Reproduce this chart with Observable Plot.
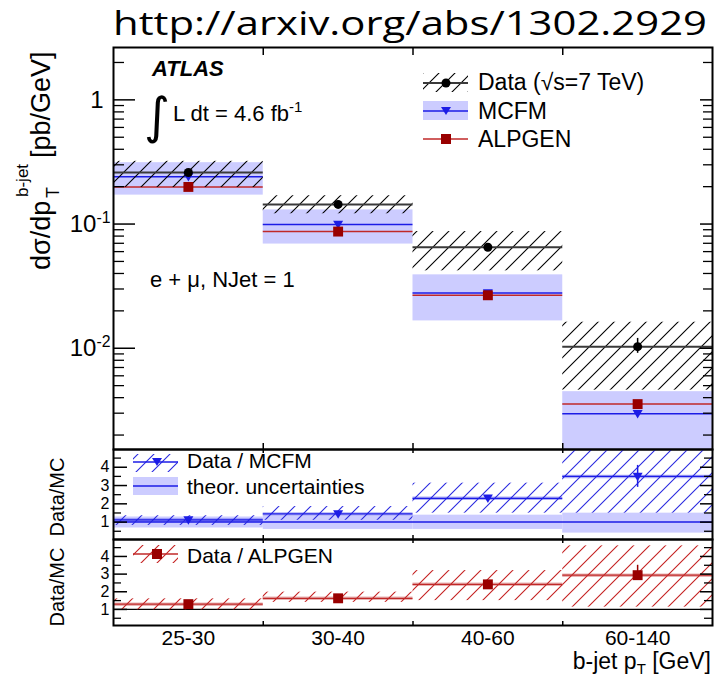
<!DOCTYPE html>
<html><head><meta charset="utf-8">
<script src="https://cdn.jsdelivr.net/npm/d3@7"></script>
<script src="https://cdn.jsdelivr.net/npm/@observablehq/plot@0.6"></script>
<style>
body{margin:0;background:#fff;}
#wrap{position:relative;width:719px;height:677px;overflow:hidden;background:#fff;}
</style></head><body>
<svg width="0" height="0" style="position:absolute">
<defs>
<pattern id="hatchBlack" patternUnits="userSpaceOnUse" width="16" height="16">
<path d="M-4,4 L4,-4 M0,16 L16,0 M12,20 L20,12" stroke="#000" stroke-width="1.1" fill="none"/>
</pattern>
<pattern id="hatchBlue" patternUnits="userSpaceOnUse" width="16" height="16">
<path d="M-4,4 L4,-4 M0,16 L16,0 M12,20 L20,12" stroke="#2a2ae0" stroke-width="1.1" fill="none"/>
</pattern>
<pattern id="hatchRed" patternUnits="userSpaceOnUse" width="16" height="16">
<path d="M-4,4 L4,-4 M0,16 L16,0 M12,20 L20,12" stroke="#c42020" stroke-width="1.1" fill="none"/>
</pattern>
</defs>
</svg>
<div id="wrap"></div>
<script>
// ---------------- data ----------------
const categories = ["25-30", "30-40", "40-60", "60-140"];

// top panel: d sigma / d pT  [pb/GeV]
const dataValue   = [0.26, 0.144, 0.065, 0.0103];
const dataStatLo  = [0.25, 0.139, 0.062, 0.0091];
const dataStatHi  = [0.27, 0.149, 0.068, 0.0120];
const dataSystLo  = [0.197, 0.121, 0.042, 0.0046];
const dataSystHi  = [0.32, 0.169, 0.087, 0.0162];
const mcfmValue   = [0.24, 0.099, 0.0278, 0.00297];
const mcfmLo      = [0.171, 0.069, 0.0166, 0.00153];
const mcfmHi      = [0.312, 0.130, 0.039, 0.00447];
const alpgenValue = [0.199, 0.087, 0.0267, 0.00355];

// middle panel: Data / MCFM
const ratioMcfm       = [1.12, 1.45, 2.3, 3.5];
const ratioMcfmStatLo = [1.08, 1.40, 2.2, 2.9];
const ratioMcfmStatHi = [1.16, 1.50, 2.4, 4.1];
const ratioMcfmSystLo = [0.82, 1.1, 1.49, 1.49];
const ratioMcfmSystHi = [1.35, 1.85, 3.13, 4.97];
const theoryLo        = [0.68, 0.6, 0.6, 0.4];
const theoryHi        = [1.28, 1.32, 1.38, 1.49];

// bottom panel: Data / ALPGEN
const ratioAlp       = [1.3, 1.63, 2.42, 2.94];
const ratioAlpStatLo = [1.25, 1.58, 2.33, 2.65];
const ratioAlpStatHi = [1.35, 1.68, 2.5, 3.5];
const ratioAlpSystLo = [0.98, 1.4, 1.5, 1.13];
const ratioAlpSystHi = [1.6, 1.98, 3.2, 4.6];

// ticks
const binEdges = [1, 2, 3];
const binCenters = [0.5, 1.5, 2.5, 3.5];
const topMajor = [1, 0.1, 0.01];
const topMinor = [2, 0.9, 0.8, 0.7, 0.6, 0.5, 0.4, 0.3, 0.2,
  0.09, 0.08, 0.07, 0.06, 0.05, 0.04, 0.03, 0.02,
  0.009, 0.008, 0.007, 0.006, 0.005, 0.004, 0.003, 0.002];
const ratioMajor = [1, 2, 3, 4];
const ratioMinor = [0.5, 1.5, 2.5, 3.5, 4.5];

// ---------------- style ----------------
const BLUE = "#1c1ce6", BAND = "#ccccff", RED = "#c02828", DARKRED = "#990000";
const FONT = "'Liberation Sans', Arial, Helvetica, sans-serif";
const W = 719, ML = 113, MR = 7, FW = W - ML - MR;

const rows = categories.map((cat, i) => ({
  cat, i0: i, i1: i + 1, ic: i + 0.5,
  data: dataValue[i], statLo: dataStatLo[i], statHi: dataStatHi[i],
  systLo: dataSystLo[i], systHi: dataSystHi[i],
  mcfm: mcfmValue[i], mcfmLo: mcfmLo[i], mcfmHi: mcfmHi[i], alpgen: alpgenValue[i],
  rM: ratioMcfm[i], rMsLo: ratioMcfmStatLo[i], rMsHi: ratioMcfmStatHi[i],
  rMyLo: ratioMcfmSystLo[i], rMyHi: ratioMcfmSystHi[i], thLo: theoryLo[i], thHi: theoryHi[i],
  rA: ratioAlp[i], rAsLo: ratioAlpStatLo[i], rAsHi: ratioAlpStatHi[i],
  rAyLo: ratioAlpSystLo[i], rAyHi: ratioAlpSystHi[i]
}));

const triDown = {draw(ctx, size) {
  const r = Math.sqrt(size / Math.PI);
  ctx.moveTo(-r, -0.75 * r); ctx.lineTo(r, -0.75 * r); ctx.lineTo(0, 0.95 * r); ctx.closePath();
}};

function svgStyle(top) {
  return `position:absolute;top:${top}px;left:0;background:transparent;overflow:visible;font-family:${FONT};color:black;`;
}
function tickMarks(H, major, minor, lMaj, lMin, rMaj, rMin, xTop, xBot) {
  return [
    Plot.ruleY(major, {insetRight: FW - lMaj, stroke: "black", strokeWidth: 1.5}),
    Plot.ruleY(minor, {insetRight: FW - lMin, stroke: "black", strokeWidth: 1.3}),
    Plot.ruleY(major, {insetLeft: FW - rMaj, stroke: "black", strokeWidth: 1.5}),
    Plot.ruleY(minor, {insetLeft: FW - rMin, stroke: "black", strokeWidth: 1.3}),
    Plot.ruleX(binEdges, {insetBottom: H - xTop, stroke: "black", strokeWidth: 1.5}),
    Plot.ruleX(binEdges, {insetTop: H - xBot, stroke: "black", strokeWidth: 1.5})
  ];
}

// ---------------- top panel ----------------
const topPlot = Plot.plot({
  width: W, height: 410, marginTop: 7, marginBottom: 1, marginLeft: ML, marginRight: MR,
  style: svgStyle(40) + "font-size:24px;",
  x: {domain: [0, 4], axis: null},
  y: {type: "log", domain: [0.00153, 2.64], label: null},
  marks: [
    Plot.rect(rows, {x1: "i0", x2: "i1", y1: "mcfmLo", y2: "mcfmHi", fill: BAND}),
    Plot.ruleY(rows, {x1: "i0", x2: "i1", y: "mcfm", stroke: BLUE, strokeWidth: 1.5}),
    Plot.ruleY(rows, {x1: "i0", x2: "i1", y: "alpgen", stroke: RED, strokeWidth: 1.5}),
    Plot.rect(rows, {x1: "i0", x2: "i1", y1: "systLo", y2: "systHi", fill: "url(#hatchBlack)"}),
    Plot.ruleY(rows, {x1: "i0", x2: "i1", y: "data", stroke: "#3a3a3a", strokeWidth: 2}),
    Plot.ruleX(rows, {x: "ic", y1: "statLo", y2: "statHi", stroke: "black", strokeWidth: 1.5}),
    Plot.dot(rows, {x: "ic", y: "mcfm", symbol: triDown, r: 5, fill: BLUE}),
    Plot.dot(rows, {x: "ic", y: "alpgen", symbol: "square", r: 5.6, fill: DARKRED}),
    Plot.dot(rows, {x: "ic", y: "data", symbol: "circle", r: 4.5, fill: "black"}),
    ...tickMarks(402, topMajor, topMinor, 22, 11, 12, 9, 8, 6),
    Plot.frame({stroke: "black", strokeWidth: 2}),
    Plot.axisY({ticks: topMajor, tickSize: 0, tickPadding: 3, label: null,
      tickFormat: v => v === 1 ? "1" : "10^" + Math.round(Math.log10(v))})
  ]
});

// ---------------- middle panel ----------------
const midPlot = Plot.plot({
  width: W, height: 91, marginTop: 0, marginBottom: 1, marginLeft: ML, marginRight: MR,
  style: svgStyle(449) + "font-size:16px;",
  x: {domain: [0, 4], axis: null},
  y: {domain: [0.05, 4.97], label: null},
  marks: [
    Plot.rect(rows, {x1: "i0", x2: "i1", y1: "thLo", y2: "thHi", fill: BAND}),
    Plot.ruleY([1], {stroke: BLUE, strokeWidth: 1.5}),
    Plot.rect(rows, {x1: "i0", x2: "i1", y1: "rMyLo", y2: "rMyHi", fill: "url(#hatchBlue)"}),
    Plot.ruleY(rows, {x1: "i0", x2: "i1", y: "rM", stroke: BLUE, strokeOpacity: 0.35, strokeWidth: 3.5}),
    Plot.ruleY(rows, {x1: "i0", x2: "i1", y: "rM", stroke: BLUE, strokeWidth: 1.2}),
    Plot.ruleX(rows, {x: "ic", y1: "rMsLo", y2: "rMsHi", stroke: BLUE, strokeWidth: 1.5}),
    Plot.dot(rows, {x: "ic", y: "rM", symbol: triDown, r: 5, fill: BLUE}),
    ...tickMarks(90, ratioMajor, ratioMinor, 14, 8, 12, 8, 4, 4),
    Plot.frame({stroke: "black", strokeWidth: 2}),
    Plot.axisY({ticks: ratioMajor, tickSize: 0, tickPadding: 4, label: null, tickFormat: d => String(d)})
  ]
});

// ---------------- bottom panel ----------------
const botPlot = Plot.plot({
  width: W, height: 138, marginTop: 0, marginBottom: 52, marginLeft: ML, marginRight: MR,
  style: svgStyle(539) + "font-size:16px;",
  x: {domain: [0, 4], label: null},
  y: {domain: [0.09, 4.96], label: null},
  marks: [
    Plot.ruleY([1], {stroke: "black", strokeWidth: 1.3}),
    Plot.rect(rows, {x1: "i0", x2: "i1", y1: "rAyLo", y2: "rAyHi", fill: "url(#hatchRed)"}),
    Plot.ruleY(rows, {x1: "i0", x2: "i1", y: "rA", stroke: RED, strokeOpacity: 0.35, strokeWidth: 3.5}),
    Plot.ruleY(rows, {x1: "i0", x2: "i1", y: "rA", stroke: RED, strokeWidth: 1.2}),
    Plot.ruleX(rows, {x: "ic", y1: "rAsLo", y2: "rAsHi", stroke: DARKRED, strokeWidth: 1.5}),
    Plot.dot(rows, {x: "ic", y: "rA", symbol: "square", r: 5.6, fill: DARKRED}),
    ...tickMarks(86, ratioMajor, ratioMinor, 14, 8, 12, 8, 4, 4),
    Plot.frame({stroke: "black", strokeWidth: 2}),
    Plot.axisY({ticks: ratioMajor, tickSize: 0, tickPadding: 4, label: null, tickFormat: d => String(d)}),
    Plot.axisX({ticks: binCenters, tickSize: 0, tickPadding: 5, label: null, fontSize: 21,
      tickFormat: v => categories[Math.floor(v)]})
  ]
});

const wrap = document.getElementById("wrap");
wrap.append(topPlot, midPlot, botPlot);

// superscript exponents on the log axis
d3.select(topPlot).selectAll("text").each(function() {
  const t = this.textContent;
  if (/^10\^/.test(t)) {
    const e = t.slice(3);
    const s = d3.select(this);
    s.text("");
    s.append("tspan").text("10");
    s.append("tspan").attr("dy", "-0.55em").attr("font-size", "0.66em").text(e);
  } else if (t === "1") {
    d3.select(this).attr("dx", -7);
  }
});

// ---------------- overlay texts & legends ----------------
const ov = d3.select(wrap).append("svg")
  .attr("width", W).attr("height", 677)
  .style("position", "absolute").style("top", "0").style("left", "0")
  .attr("font-family", FONT);

ov.append("text").attr("x", 113).attr("y", 35)
  .attr("font-family", "'Open Sans', 'Noto Sans', sans-serif").attr("font-size", 33)
  .attr("textLength", 594).attr("lengthAdjust", "spacingAndGlyphs")
  .text("http://arxiv.org/abs/1302.2929");

ov.append("text").attr("x", 152).attr("y", 76).attr("font-size", 22)
  .attr("font-weight", "bold").attr("font-style", "italic").text("ATLAS");
ov.append("text").attr("x", 144).attr("y", 133).attr("font-size", 50)
  .attr("font-family", "'DejaVu Sans', sans-serif").text("∫");
const lum = ov.append("text").attr("x", 173).attr("y", 121).attr("font-size", 22);
lum.append("tspan").text("L dt = 4.6 fb");
lum.append("tspan").attr("dy", -9).attr("font-size", 15).text("-1");
ov.append("text").attr("x", 150).attr("y", 287).attr("font-size", 22).text("e + μ, NJet = 1");

// y title
const yt = ov.append("g").attr("transform", "translate(50,270) rotate(-90)");
yt.append("text").attr("x", 0).attr("y", 0).attr("font-size", 27).text("dσ/dp");
yt.append("text").attr("x", 72).attr("y", 9).attr("font-size", 18).text("T");
yt.append("text").attr("x", 73).attr("y", -22).attr("font-size", 17).text("b-jet");
yt.append("text").attr("x", 112).attr("y", 0).attr("font-size", 27).text("[pb/GeV]");

ov.append("g").attr("transform", "translate(64,497) rotate(-90)")
  .append("text").attr("text-anchor", "middle").attr("font-size", 20).text("Data/MC");
ov.append("g").attr("transform", "translate(64,587) rotate(-90)")
  .append("text").attr("text-anchor", "middle").attr("font-size", 20).text("Data/MC");

// x title
const xt = ov.append("text").attr("x", 711).attr("y", 669).attr("text-anchor", "end").attr("font-size", 23);
xt.append("tspan").text("b-jet p");
xt.append("tspan").attr("dy", 5).attr("font-size", 15).text("T");
xt.append("tspan").attr("dy", -5).text(" [GeV]");

// top legend
const lg = ov.append("g");
lg.append("rect").attr("x", 423).attr("y", 73).attr("width", 45).attr("height", 19).attr("fill", "url(#hatchBlack)");
lg.append("line").attr("x1", 423).attr("x2", 468).attr("y1", 83).attr("y2", 83).attr("stroke", "#3a3a3a").attr("stroke-width", 2);
lg.append("circle").attr("cx", 446).attr("cy", 83).attr("r", 4.5).attr("fill", "black");
lg.append("text").attr("x", 478).attr("y", 90).attr("font-size", 23).text("Data (√s=7 TeV)");
lg.append("rect").attr("x", 423).attr("y", 101).attr("width", 45).attr("height", 19).attr("fill", BAND);
lg.append("line").attr("x1", 423).attr("x2", 468).attr("y1", 111).attr("y2", 111).attr("stroke", BLUE).attr("stroke-width", 1.5);
lg.append("path").attr("d", "M441,107 L451,107 L446,115 Z").attr("fill", BLUE);
lg.append("text").attr("x", 478).attr("y", 119).attr("font-size", 23).text("MCFM");
lg.append("line").attr("x1", 423).attr("x2", 468).attr("y1", 139).attr("y2", 139).attr("stroke", RED).attr("stroke-width", 1.5);
lg.append("rect").attr("x", 441).attr("y", 134).attr("width", 10).attr("height", 10).attr("fill", DARKRED);
lg.append("text").attr("x", 478).attr("y", 147).attr("font-size", 23).text("ALPGEN");

// middle legend
lg.append("rect").attr("x", 133).attr("y", 454).attr("width", 45).attr("height", 18).attr("fill", "url(#hatchBlue)");
lg.append("line").attr("x1", 133).attr("x2", 178).attr("y1", 462).attr("y2", 462).attr("stroke", BLUE).attr("stroke-width", 1.5);
lg.append("path").attr("d", "M152,458 L162,458 L157,466 Z").attr("fill", BLUE);
lg.append("text").attr("x", 187).attr("y", 468).attr("font-size", 21).text("Data / MCFM");
lg.append("rect").attr("x", 133).attr("y", 477).attr("width", 45).attr("height", 18).attr("fill", BAND);
lg.append("line").attr("x1", 133).attr("x2", 178).attr("y1", 486).attr("y2", 486).attr("stroke", BLUE).attr("stroke-width", 1.5);
lg.append("text").attr("x", 187).attr("y", 494).attr("font-size", 21).text("theor. uncertainties");

// bottom legend
lg.append("rect").attr("x", 133).attr("y", 545).attr("width", 45).attr("height", 18).attr("fill", "url(#hatchRed)");
lg.append("line").attr("x1", 133).attr("x2", 178).attr("y1", 554).attr("y2", 554).attr("stroke", RED).attr("stroke-width", 1.5);
lg.append("rect").attr("x", 152).attr("y", 549).attr("width", 10).attr("height", 10).attr("fill", DARKRED);
lg.append("text").attr("x", 187).attr("y", 563).attr("font-size", 21).text("Data / ALPGEN");
</script>
</body></html>
